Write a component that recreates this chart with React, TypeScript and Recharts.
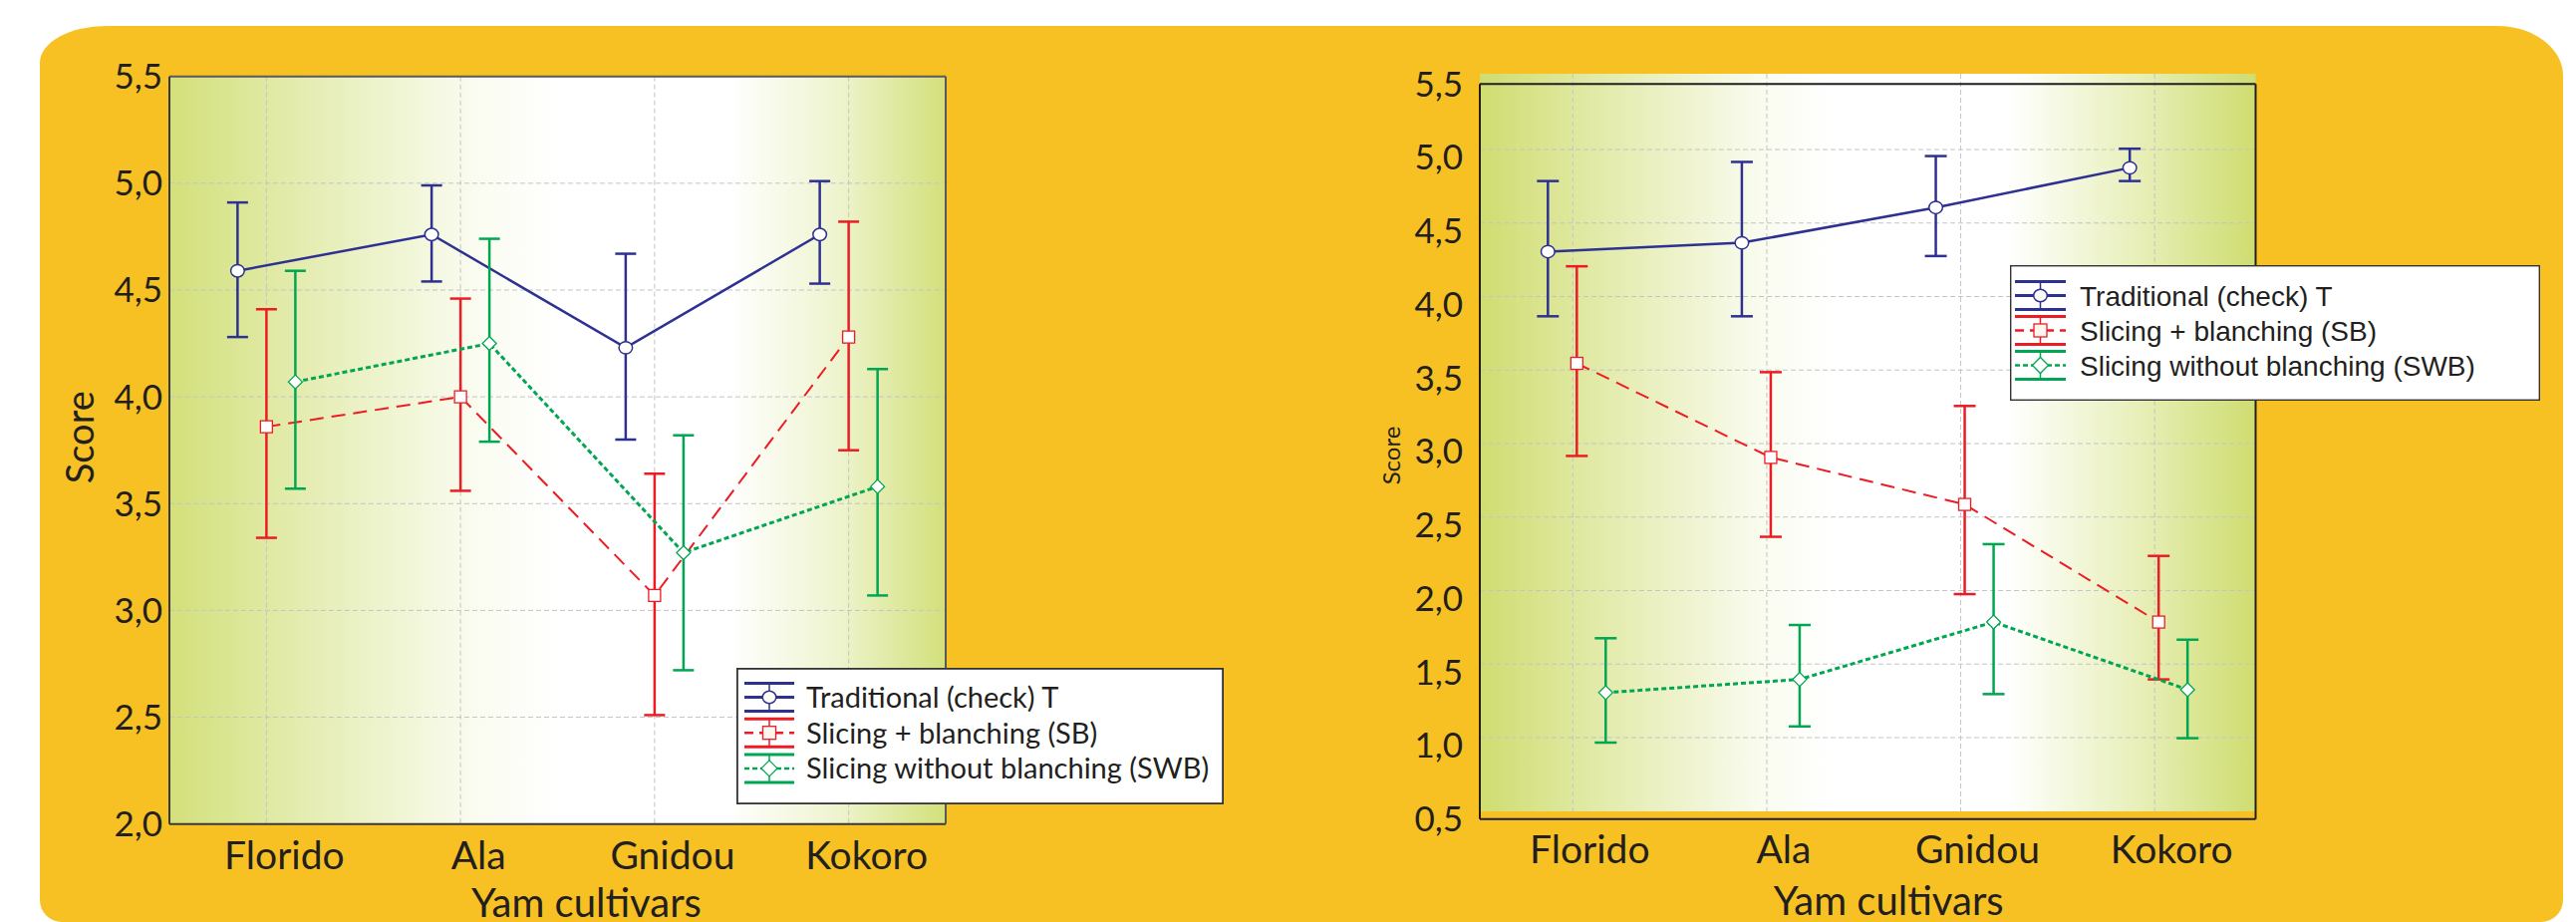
import React from 'react';
import { ComposedChart, Line, XAxis, YAxis, CartesianGrid, ErrorBar, Legend } from 'recharts';

// ---------- data ----------
const categories = ['Florido', 'Ala', 'Gnidou', 'Kokoro'];
const seriesNames = ['Traditional (check) T', 'Slicing + blanching (SB)', 'Slicing without blanching (SWB)'];

const leftTicks = [2.0, 2.5, 3.0, 3.5, 4.0, 4.5, 5.0, 5.5];
const rightTicks = [0.5, 1.0, 1.5, 2.0, 2.5, 3.0, 3.5, 4.0, 4.5, 5.0, 5.5];

// Left panel
const leftT = [4.59, 4.76, 4.23, 4.76];
const leftTLow = [4.28, 4.54, 3.8, 4.53];
const leftTHigh = [4.91, 4.99, 4.67, 5.01];
const leftSB = [3.86, 4.0, 3.07, 4.28];
const leftSBLow = [3.34, 3.56, 2.51, 3.75];
const leftSBHigh = [4.41, 4.46, 3.64, 4.82];
const leftSWB = [4.07, 4.25, 3.27, 3.58];
const leftSWBLow = [3.57, 3.79, 2.72, 3.07];
const leftSWBHigh = [4.59, 4.74, 3.82, 4.13];

// Right panel
const rightT = [4.36, 4.42, 4.66, 4.93];
const rightTLow = [3.92, 3.92, 4.33, 4.84];
const rightTHigh = [4.84, 4.97, 5.01, 5.06];
const rightSB = [3.6, 2.96, 2.64, 1.84];
const rightSBLow = [2.97, 2.42, 2.03, 1.45];
const rightSBHigh = [4.26, 3.54, 3.31, 2.29];
const rightSWB = [1.36, 1.45, 1.84, 1.38];
const rightSWBLow = [1.02, 1.13, 1.35, 1.05];
const rightSWBHigh = [1.73, 1.82, 2.37, 1.72];

function buildRows(
  t: number[], tLo: number[], tHi: number[],
  sb: number[], sbLo: number[], sbHi: number[],
  swb: number[], swbLo: number[], swbHi: number[]
) {
  return categories.map((name, i) => ({
    name,
    T: t[i],
    TErr: [t[i] - tLo[i], tHi[i] - t[i]],
    SB: sb[i],
    SBErr: [sb[i] - sbLo[i], sbHi[i] - sb[i]],
    SWB: swb[i],
    SWBErr: [swb[i] - swbLo[i], swbHi[i] - swb[i]],
  }));
}

const leftRows = buildRows(leftT, leftTLow, leftTHigh, leftSB, leftSBLow, leftSBHigh, leftSWB, leftSWBLow, leftSWBHigh);
const rightRows = buildRows(rightT, rightTLow, rightTHigh, rightSB, rightSBLow, rightSBHigh, rightSWB, rightSWBLow, rightSWBHigh);

// ---------- styles ----------
const BLUE = '#2e3192';
const RED = '#ed1c24';
const GREEN = '#00a651';
const YELLOW = '#f7c123';
const TEXT = '#231f20';
const GRID = '#c4c4c4';
const seriesColors = [BLUE, RED, GREEN];
const legendDash = [undefined, '9 6', '5 3'];
const SERIES_SHIFT = 29;

const gradLStops: [number, string][] = [
  [0, '#d3e07a'], [0.18, '#e5edb3'], [0.4, '#fafcf1'], [0.5, '#ffffff'],
  [0.72, '#ffffff'], [0.86, '#eef4cf'], [1, '#d3e07a'],
];
const gradRStops: [number, string][] = [
  [0, '#cfdd70'], [0.15, '#e2eaa8'], [0.36, '#f9fbee'], [0.45, '#ffffff'],
  [0.68, '#ffffff'], [0.84, '#e9f0bd'], [1, '#cfdd70'],
];

const fmt = (v: number) => v.toFixed(1).replace('.', ',');

// ---------- markers ----------
const circleDot = (props: any) => {
  const { cx, cy, index } = props;
  if (cx == null || cy == null) return <g key={`c${index}`} />;
  return <ellipse key={`c${index}`} cx={cx} cy={cy} rx={6.8} ry={6.2} fill="#fff" stroke={BLUE} strokeWidth={1.5} />;
};
const squareDot = (props: any) => {
  const { cx, cy, index } = props;
  if (cx == null || cy == null) return <g key={`s${index}`} />;
  return <rect key={`s${index}`} x={cx - 6} y={cy - 6} width={12} height={12} fill="#fff" stroke={RED} strokeWidth={1.3} />;
};
const diamondDot = (props: any) => {
  const { cx, cy, index } = props;
  if (cx == null || cy == null) return <g key={`d${index}`} />;
  return (
    <polygon
      key={`d${index}`}
      points={`${cx},${cy - 7} ${cx + 7},${cy} ${cx},${cy + 7} ${cx - 7},${cy}`}
      fill="#fff"
      stroke={GREEN}
      strokeWidth={1.3}
    />
  );
};

function legendMarker(i: number, cx: number, cy: number) {
  if (i === 0) return <ellipse cx={cx} cy={cy} rx={6.8} ry={6.2} fill="#fbfaf3" stroke={BLUE} strokeWidth={1.5} />;
  if (i === 1) return <rect x={cx - 6.5} y={cy - 6.5} width={13} height={13} fill="#fbf6ef" stroke={RED} strokeWidth={1.3} />;
  return (
    <polygon
      points={`${cx},${cy - 8} ${cx + 8},${cy} ${cx},${cy + 8} ${cx - 8},${cy}`}
      fill="#fff"
      stroke={GREEN}
      strokeWidth={1.3}
    />
  );
}

function makeLegend(opts: {
  w: number; h: number; font: string; fontSize: number; textX: number;
  symX0: number; symX1: number; rowY0: number; rowStep: number; baseOff: number; border: number;
}) {
  return () => (
    <svg width={opts.w} height={opts.h} style={{ display: 'block' }}>
      <rect
        x={opts.border / 2}
        y={opts.border / 2}
        width={opts.w - opts.border}
        height={opts.h - opts.border}
        fill="#fff"
        stroke="#333"
        strokeWidth={opts.border}
      />
      {seriesNames.map((name, i) => {
        const cy = opts.rowY0 + i * opts.rowStep;
        const cx = (opts.symX0 + opts.symX1) / 2;
        const c = seriesColors[i];
        return (
          <g key={name}>
            <line x1={opts.symX0} x2={opts.symX1} y1={cy - 14} y2={cy - 14} stroke={c} strokeWidth={3} />
            <line x1={opts.symX0} x2={opts.symX1} y1={cy + 14} y2={cy + 14} stroke={c} strokeWidth={3} />
            <line x1={cx} x2={cx} y1={cy - 14} y2={cy + 14} stroke={c} strokeWidth={1.5} />
            <line
              x1={opts.symX0}
              x2={opts.symX1}
              y1={cy}
              y2={cy}
              stroke={c}
              strokeWidth={i === 0 ? 3 : 2.5}
              strokeDasharray={legendDash[i]}
            />
            {legendMarker(i, cx, cy)}
            <text x={opts.textX} y={cy + opts.baseOff} fontFamily={opts.font} fontSize={opts.fontSize} fill={TEXT}>
              {name}
            </text>
          </g>
        );
      })}
    </svg>
  );
}

const makeXTick = (dx: number, fontSize: number) => (props: any) => {
  const { x, y, payload, index } = props;
  return (
    <text key={`t${index}`} x={x + dx} y={y} dy="0.71em" textAnchor="middle" fill={TEXT} fontSize={fontSize} fontFamily="Lato">
      {payload.value}
    </text>
  );
};

function seriesLines(cap: number) {
  return [
    <Line
      key="T"
      xAxisId="b"
      yAxisId={0}
      dataKey="T"
      type="linear"
      stroke={BLUE}
      strokeWidth={2.5}
      dot={circleDot}
      activeDot={false}
      isAnimationActive={false}
    >
      <ErrorBar dataKey="TErr" width={cap} stroke={BLUE} strokeWidth={2.5} direction="y" isAnimationActive={false} />
    </Line>,
    <Line
      key="SB"
      xAxisId={0}
      yAxisId={0}
      dataKey="SB"
      type="linear"
      stroke={RED}
      strokeWidth={2}
      strokeDasharray="14 8"
      dot={squareDot}
      activeDot={false}
      isAnimationActive={false}
    >
      <ErrorBar dataKey="SBErr" width={cap} stroke={RED} strokeWidth={2.5} direction="y" isAnimationActive={false} />
    </Line>,
    <Line
      key="SWB"
      xAxisId="g"
      yAxisId={0}
      dataKey="SWB"
      type="linear"
      stroke={GREEN}
      strokeWidth={3}
      strokeDasharray="5 3"
      dot={diamondDot}
      activeDot={false}
      isAnimationActive={false}
    >
      <ErrorBar dataKey="SWBErr" width={cap} stroke={GREEN} strokeWidth={2.5} direction="y" isAnimationActive={false} />
    </Line>,
  ];
}

// point-scale paddings that put each category at the middle of its band
function paddings(plotW: number) {
  const half = plotW / (2 * categories.length);
  return {
    mid: { left: half, right: half },
    blue: { left: half - SERIES_SHIFT, right: half + SERIES_SHIFT },
    green: { left: half + SERIES_SHIFT, right: half - SERIES_SHIFT },
  };
}

// ---------- left chart ----------
function LeftChart() {
  const axisStroke = { stroke: '#3a3a3a', strokeWidth: 2 };
  const frameStroke = { stroke: '#5a5a5a', strokeWidth: 2 };
  const tickStroke = { stroke: '#555', strokeWidth: 1.5 };
  const M = { top: 76.7, right: 351, bottom: 0, left: 70 };
  const YW = 100;
  const plotW = 1300 - M.left - YW - M.right;
  const P = paddings(plotW);
  return (
    <ComposedChart width={1300} height={925} data={leftRows} margin={M}>
      <defs>
        <linearGradient id="gradL" x1="0" y1="0" x2="1" y2="0">
          {gradLStops.map(([o, c]) => (
            <stop key={o} offset={o} stopColor={c} />
          ))}
        </linearGradient>
      </defs>
      <CartesianGrid stroke={GRID} strokeDasharray="5 3" fill="url(#gradL)" fillOpacity={1} />
      <XAxis
        dataKey="name"
        xAxisId={0}
        height={98.3}
        padding={P.mid}
        interval={0}
        tickSize={0}
        tickMargin={18}
        tickLine={false}
        axisLine={axisStroke}
        tick={makeXTick(18, 39)}
        label={(p: any) => {
          const vb = p.viewBox || { x: 0, y: 0, width: 0, height: 0 };
          return (
            <text x={vb.x + vb.width / 2 + 29} y={920} textAnchor="middle" fill={TEXT} fontSize={40} fontFamily="Lato">
              Yam cultivars
            </text>
          );
        }}
      />
      <XAxis dataKey="name" xAxisId="bm" mirror padding={P.mid} interval={0} tick={false} tickSize={6} tickLine={tickStroke} axisLine={false} />
      <XAxis dataKey="name" xAxisId="top" orientation="top" mirror padding={P.mid} interval={0} tick={false} tickSize={6} tickLine={tickStroke} axisLine={frameStroke} />
      <XAxis dataKey="name" xAxisId="b" hide padding={P.blue} />
      <XAxis dataKey="name" xAxisId="g" hide padding={P.green} />
      <YAxis
        yAxisId={0}
        type="number"
        domain={[2, 5.5]}
        ticks={leftTicks}
        allowDataOverflow
        interval={0}
        width={YW}
        tickSize={0}
        tickMargin={7}
        tickLine={false}
        axisLine={axisStroke}
        tickFormatter={fmt}
        tick={{ fill: TEXT, fontSize: 35, fontFamily: 'Lato' }}
        label={(p: any) => {
          const vb = p.viewBox || { x: 0, y: 0, width: 0, height: 0 };
          const cx = vb.x + 9;
          const cy = vb.y + vb.height / 2 - 13;
          return (
            <text x={cx} y={cy} transform={`rotate(-90, ${cx}, ${cy})`} textAnchor="middle" dominantBaseline="central" fill={TEXT} fontSize={38} fontFamily="Lato">
              Score
            </text>
          );
        }}
      />
      <YAxis yAxisId="lm" mirror type="number" domain={[2, 5.5]} ticks={leftTicks} allowDataOverflow interval={0} tick={false} tickSize={6} tickLine={tickStroke} axisLine={false} />
      <YAxis yAxisId="r" orientation="right" mirror type="number" domain={[2, 5.5]} ticks={leftTicks} allowDataOverflow interval={0} tick={false} tickSize={6} tickLine={tickStroke} axisLine={frameStroke} />
      {seriesLines(10.5)}
      <Legend
        layout="vertical"
        align="center"
        verticalAlign="middle"
        content={makeLegend({ w: 489, h: 137, font: 'Lato', fontSize: 29, textX: 70, symX0: 8, symX1: 58, rowY0: 29.5, rowStep: 35.7, baseOff: 10.5, border: 1.8 })}
        wrapperStyle={{ left: 739, top: 670, width: 489, height: 137 }}
      />
    </ComposedChart>
  );
}

// ---------- right chart ----------
const R_GRID_DY = -8;
const R_GRID_DX = -4;

const rightHGen = (args: any) => {
  const { yAxis, offset } = args || {};
  return rightTicks.slice(1, -1).map((v) => {
    const base =
      yAxis && typeof yAxis.scale === 'function'
        ? yAxis.scale(v)
        : offset.top + ((5.5 - v) / 5) * offset.height;
    return base + R_GRID_DY;
  });
};
const rightVGen = (args: any) => {
  const { xAxis, offset } = args || {};
  const half = offset.width / (2 * categories.length);
  return categories.map((c, i) => {
    const s = xAxis && xAxis.scale;
    if (s && typeof s === 'function') {
      const v = s(c);
      if (typeof v === 'number' && !isNaN(v)) {
        const bw = typeof s.bandwidth === 'function' ? s.bandwidth() / 2 : 0;
        return v + bw + R_GRID_DX;
      }
    }
    return offset.left + half * (2 * i + 1) + R_GRID_DX;
  });
};

function RightChart() {
  const axisStroke = { stroke: '#231f20', strokeWidth: 2 };
  const tickStroke = { stroke: '#444', strokeWidth: 1.5 };
  const M = { top: 84.3, right: 321.5, bottom: 0, left: 75 };
  const YW = 110;
  const XH = 103.3;
  const plotH = 925 - XH - M.top;
  const plotW = 1285 - M.left - YW - M.right;
  const P = paddings(plotW);
  return (
    <ComposedChart width={1285} height={925} data={rightRows} margin={M}>
      <defs>
        <linearGradient id="gradR" x1="0" y1="0" x2="1" y2="0">
          {gradRStops.map(([o, c]) => (
            <stop key={o} offset={o} stopColor={c} />
          ))}
        </linearGradient>
      </defs>
      <CartesianGrid
        x={M.left + YW}
        y={M.top - 10.3}
        width={plotW}
        height={plotH + 2.6}
        stroke={GRID}
        strokeDasharray="5 3"
        fill="url(#gradR)"
        fillOpacity={1}
        horizontalCoordinatesGenerator={rightHGen}
        verticalCoordinatesGenerator={rightVGen}
      />
      <XAxis
        dataKey="name"
        xAxisId={0}
        height={XH}
        padding={P.mid}
        interval={0}
        tickSize={0}
        tickMargin={17}
        tickLine={false}
        axisLine={axisStroke}
        tick={makeXTick(13, 39)}
        label={(p: any) => {
          const vb = p.viewBox || { x: 0, y: 0, width: 0, height: 0 };
          return (
            <text x={vb.x + vb.width / 2 + 21} y={918} textAnchor="middle" fill={TEXT} fontSize={40} fontFamily="Lato">
              Yam cultivars
            </text>
          );
        }}
      />
      <XAxis dataKey="name" xAxisId="bm" mirror padding={P.mid} interval={0} tick={false} tickSize={6} tickLine={tickStroke} axisLine={false} />
      <XAxis dataKey="name" xAxisId="top" orientation="top" mirror padding={P.mid} interval={0} tick={false} tickSize={6} tickLine={tickStroke} axisLine={axisStroke} />
      <XAxis dataKey="name" xAxisId="b" hide padding={P.blue} />
      <XAxis dataKey="name" xAxisId="g" hide padding={P.green} />
      <YAxis
        yAxisId={0}
        type="number"
        domain={[0.5, 5.5]}
        ticks={rightTicks}
        allowDataOverflow
        interval={0}
        width={YW}
        tickSize={0}
        tickMargin={17}
        tickLine={false}
        axisLine={axisStroke}
        tickFormatter={fmt}
        tick={{ fill: TEXT, fontSize: 35, fontFamily: 'Lato' }}
        label={(p: any) => {
          const vb = p.viewBox || { x: 0, y: 0, width: 0, height: 0 };
          const cx = vb.x + 20;
          const cy = vb.y + vb.height / 2 + 4;
          return (
            <text x={cx} y={cy} transform={`rotate(-90, ${cx}, ${cy})`} textAnchor="middle" dominantBaseline="central" fill={TEXT} fontSize={24} fontFamily="Lato">
              Score
            </text>
          );
        }}
      />
      <YAxis yAxisId="lm" mirror type="number" domain={[0.5, 5.5]} ticks={rightTicks} allowDataOverflow interval={0} tick={false} tickSize={6} tickLine={tickStroke} axisLine={false} />
      <YAxis yAxisId="r" orientation="right" mirror type="number" domain={[0.5, 5.5]} ticks={rightTicks} allowDataOverflow interval={0} tick={false} tickSize={6} tickLine={tickStroke} axisLine={axisStroke} />
      {seriesLines(11)}
      <Legend
        layout="vertical"
        align="center"
        verticalAlign="middle"
        content={makeLegend({ w: 532, h: 136, font: 'Liberation Sans', fontSize: 28, textX: 70, symX0: 5, symX1: 56, rowY0: 30.5, rowStep: 35, baseOff: 10, border: 1.4 })}
        wrapperStyle={{ left: 717, top: 266, width: 532, height: 136 }}
      />
    </ComposedChart>
  );
}

export default function App() {
  return (
    <div
      style={{
        position: 'absolute',
        left: 0,
        top: 0,
        width: 2585,
        height: 925,
        overflow: 'hidden',
        background: '#ffffff',
      }}
    >
      <div
        style={{
          position: 'absolute',
          left: 40,
          top: 26,
          width: 2532,
          height: 899,
          background: YELLOW,
          borderRadius: '67px 66px 22px 22px / 37px 50px 22px 22px',
        }}
      />
      <div style={{ position: 'absolute', left: 0, top: 0, width: 1300, height: 925 }}>
        <LeftChart />
      </div>
      <div style={{ position: 'absolute', left: 1300, top: 0, width: 1285, height: 925 }}>
        <RightChart />
      </div>
    </div>
  );
}
